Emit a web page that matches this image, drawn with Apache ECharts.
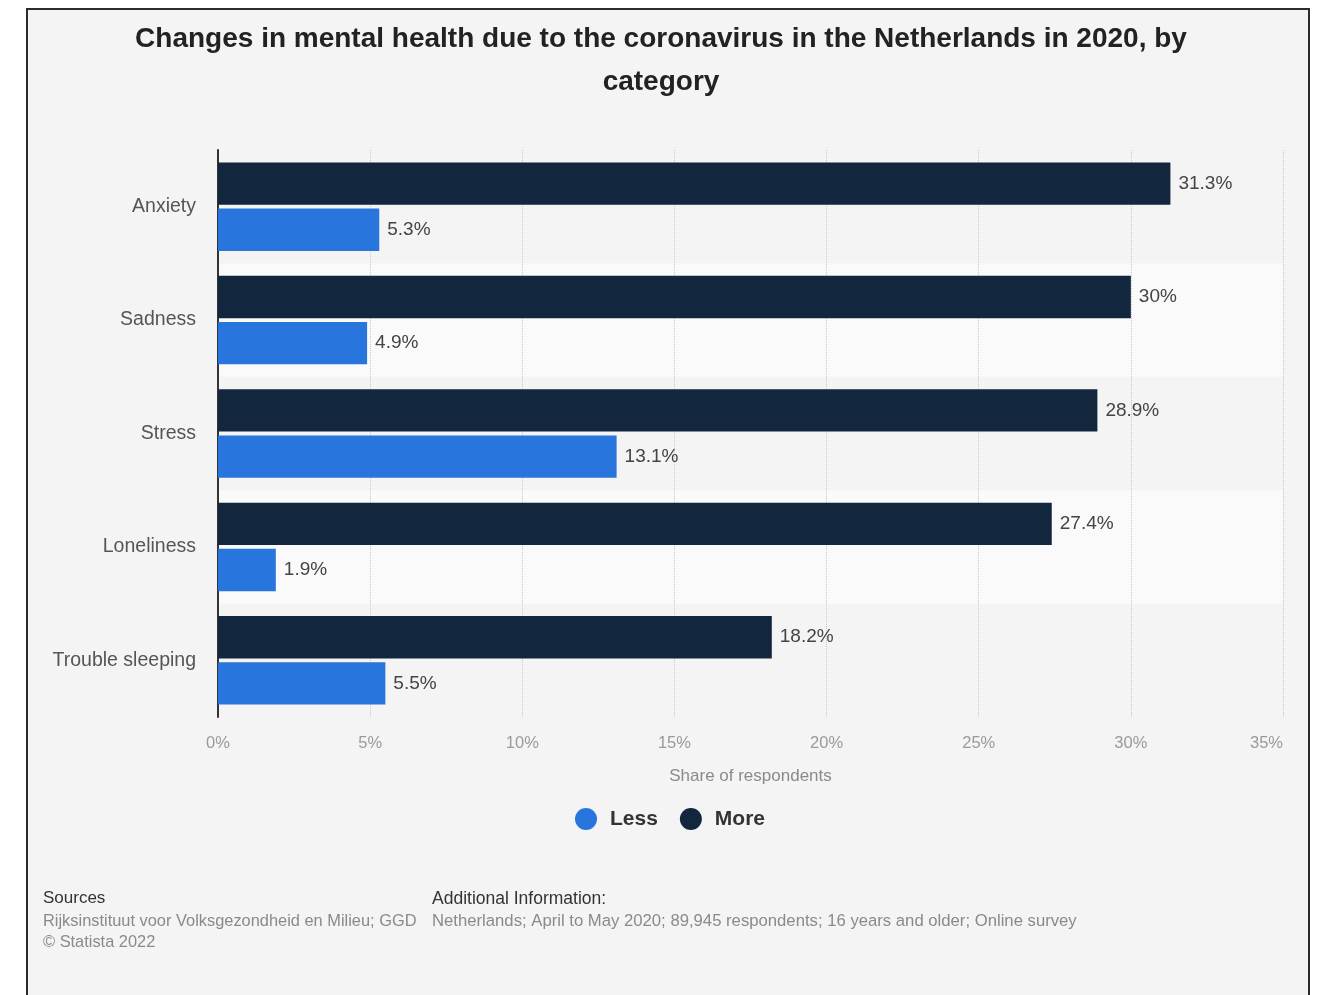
<!DOCTYPE html>
<html><head><meta charset="utf-8">
<script src="https://cdn.jsdelivr.net/npm/echarts@6/dist/echarts.min.js"></script>
<style>html,body{margin:0;padding:0;background:#fff}#c{width:1322px;height:995px}</style>
</head><body><div id="c"></div>
<script>
const categories = ['Anxiety', 'Sadness', 'Stress', 'Loneliness', 'Trouble sleeping'];
const lessValues = [5.3, 4.9, 13.1, 1.9, 5.5];
const moreValues = [31.3, 30, 28.9, 27.4, 18.2];
const xTicks = [0, 5, 10, 15, 20, 25, 30, 35];

const FONT = '"Liberation Sans", Arial, Helvetica, sans-serif';
const chart = echarts.init(document.getElementById('c'), null, {renderer: 'canvas'});
const fmt = p => (Math.round(p.value * 10) / 10) + '%';
chart.setOption({
  backgroundColor: '#ffffff',
  textStyle: {fontFamily: FONT},
  graphic: [{
    type: 'rect', z: -10, silent: true,
    shape: {x: 27, y: 9, width: 1282, height: 1000},
    style: {fill: '#f4f4f4', stroke: '#2b2b2b', lineWidth: 2}
  }, {
    type: 'text', left: 43, top: 890,
    style: {text: 'Sources', font: '17px ' + FONT, fill: '#333'}
  }, {
    type: 'text', left: 43, top: 911,
    style: {text: 'Rijksinstituut voor Volksgezondheid en Milieu; GGD\n© Statista 2022', font: '16.4px ' + FONT, fill: '#8a8a8a', lineHeight: 21}
  }, {
    type: 'text', left: 432, top: 890,
    style: {text: 'Additional Information:', font: '17.5px ' + FONT, fill: '#333'}
  }, {
    type: 'text', left: 432, top: 913,
    style: {text: 'Netherlands; April to May 2020; 89,945 respondents; 16 years and older; Online survey', font: '16.7px ' + FONT, fill: '#8a8a8a'}
  }],
  title: {
    text: 'Changes in mental health due to the coronavirus in the Netherlands in 2020, by\ncategory',
    left: 'center', top: 13,
    textStyle: {fontSize: 28, fontWeight: 'bold', color: '#222', lineHeight: 43, fontFamily: FONT}
  },
  legend: {
    data: ['Less', 'More'],
    top: 803, left: 570,
    icon: 'circle', itemWidth: 22, itemHeight: 22, itemGap: 22,
    textStyle: {fontSize: 21, fontWeight: 'bold', color: '#333', fontFamily: FONT, padding: [0, 0, 0, 8]}
  },
  grid: {left: 218, right: 39, top: 150, bottom: 278, containLabel: false},
  xAxis: {
    type: 'value', min: 0, max: 35, interval: 5,
    name: 'Share of respondents', nameLocation: 'middle', nameGap: 51,
    nameTextStyle: {fontSize: 17, color: '#8a8a8a', fontFamily: FONT},
    axisLine: {show: false}, axisTick: {show: false},
    axisLabel: {formatter: v => xTicks.includes(v) ? v + '%' : '', fontSize: 16.5, color: '#9a9a9a', margin: 18, fontFamily: FONT, alignMaxLabel: 'right'},
    splitLine: {show: true, lineStyle: {type: 'dotted', color: '#c8c8c8', width: 1}}
  },
  yAxis: {
    type: 'category', data: categories, inverse: true,
    axisLine: {show: true, lineStyle: {color: '#333', width: 2}},
    axisTick: {show: false},
    axisLabel: {fontSize: 19.5, color: '#555', margin: 22, fontFamily: FONT},
    splitArea: {show: true, areaStyle: {color: ['rgba(0,0,0,0)', '#fafafa']}}
  },
  series: [{
    name: 'More', type: 'bar', data: moreValues,
    barGap: '9%', barCategoryGap: '22%',
    itemStyle: {color: '#12263d'},
    label: {show: true, position: 'right', distance: 8, formatter: fmt, fontSize: 19, color: '#444', fontFamily: FONT}
  }, {
    name: 'Less', type: 'bar', data: lessValues,
    barGap: '9%', barCategoryGap: '22%',
    itemStyle: {color: '#2876dd'},
    label: {show: true, position: 'right', distance: 8, formatter: fmt, fontSize: 19, color: '#444', fontFamily: FONT}
  }]
});
</script></body></html>
